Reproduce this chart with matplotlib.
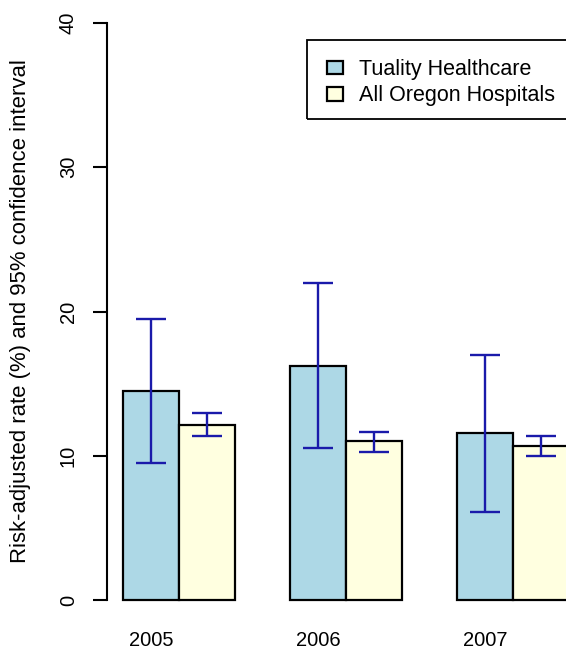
import matplotlib
matplotlib.use("Agg")
import matplotlib.pyplot as plt
from matplotlib.patches import Rectangle
import numpy as np

plt.rcParams['font.family'] = ['Liberation Sans', 'DejaVu Sans']

years = ['2005', '2006', '2007']
tuality = [14.5, 16.25, 11.55]
tuality_lo = [9.48, 10.56, 6.12]
tuality_hi = [19.46, 21.95, 16.98]
oregon = [12.13, 11.02, 10.7]
oregon_lo = [11.39, 10.28, 10.0]
oregon_hi = [12.94, 11.67, 11.39]

W, H = 566, 656
fig = plt.figure(figsize=(W / 100, H / 100), dpi=100)
# axes placed in pixel terms: y=0 at 600px, y=40 at 23px, axis line at x=107px
ax = fig.add_axes([107 / W, (H - 600) / H, (W - 107) / W, (600 - 23) / H])

x = np.arange(len(years)) * 3.0
px = 55.67  # pixels per bar width
ax.set_xlim(-44 / px, (W - 151) / px)
ax.set_ylim(0, 40)

t_err = [np.array(tuality) - np.array(tuality_lo), np.array(tuality_hi) - np.array(tuality)]
o_err = [np.array(oregon) - np.array(oregon_lo), np.array(oregon_hi) - np.array(oregon)]

ax.bar(x, tuality, width=1.0, color='#ADD8E6', edgecolor='black', linewidth=1.6,
       label='Tuality Healthcare', clip_on=False)
ax.bar(x + 1, oregon, width=1.0, color='#FFFFE0', edgecolor='black', linewidth=1.6,
       label='All Oregon Hospitals', clip_on=False)
ax.errorbar(x, tuality, yerr=t_err, fmt='none', ecolor='#1a1aaa', elinewidth=1.7,
            capsize=11, capthick=1.7)
ax.errorbar(x + 1, oregon, yerr=o_err, fmt='none', ecolor='#1a1aaa', elinewidth=1.7,
            capsize=11, capthick=1.7)

for s in ['top', 'right', 'bottom']:
    ax.spines[s].set_visible(False)
ax.spines['left'].set_linewidth(1.5)
ax.spines['left'].set_bounds(0, 40)
ax.set_yticks([0, 10, 20, 30, 40])
ax.set_yticklabels(['0', '10', '20', '30', '40'], rotation=90, va='center', fontsize=14.5)
ax.tick_params(axis='y', length=10, width=1.5, pad=11)
ax.set_xticks([])

for xi, yr in zip(x, years):
    ax.text(xi, -41 / 14.425, yr, ha='center', va='center', fontsize=14.5)

fig.text(21 / W, 1 - 311 / H, 'Risk-adjusted rate (%) and 95% confidence interval',
         rotation=90, ha='center', va='center', fontsize=15.9)

# legend box runs past the right edge of the picture
fig.patches.append(Rectangle((307 / W, 1 - 119 / H), 300 / W, 79 / H, transform=fig.transFigure,
                             fill=False, edgecolor='black', linewidth=1.3))
leg = fig.legend(loc='upper left', bbox_to_anchor=(327 / W, 1 - 59 / H),
                 frameon=False, fontsize=15.5,
                 handlelength=0.75, handleheight=0.6, handletextpad=0.75, borderpad=0,
                 labelspacing=0.25, borderaxespad=0)

fig.savefig('out.png', dpi=100)
